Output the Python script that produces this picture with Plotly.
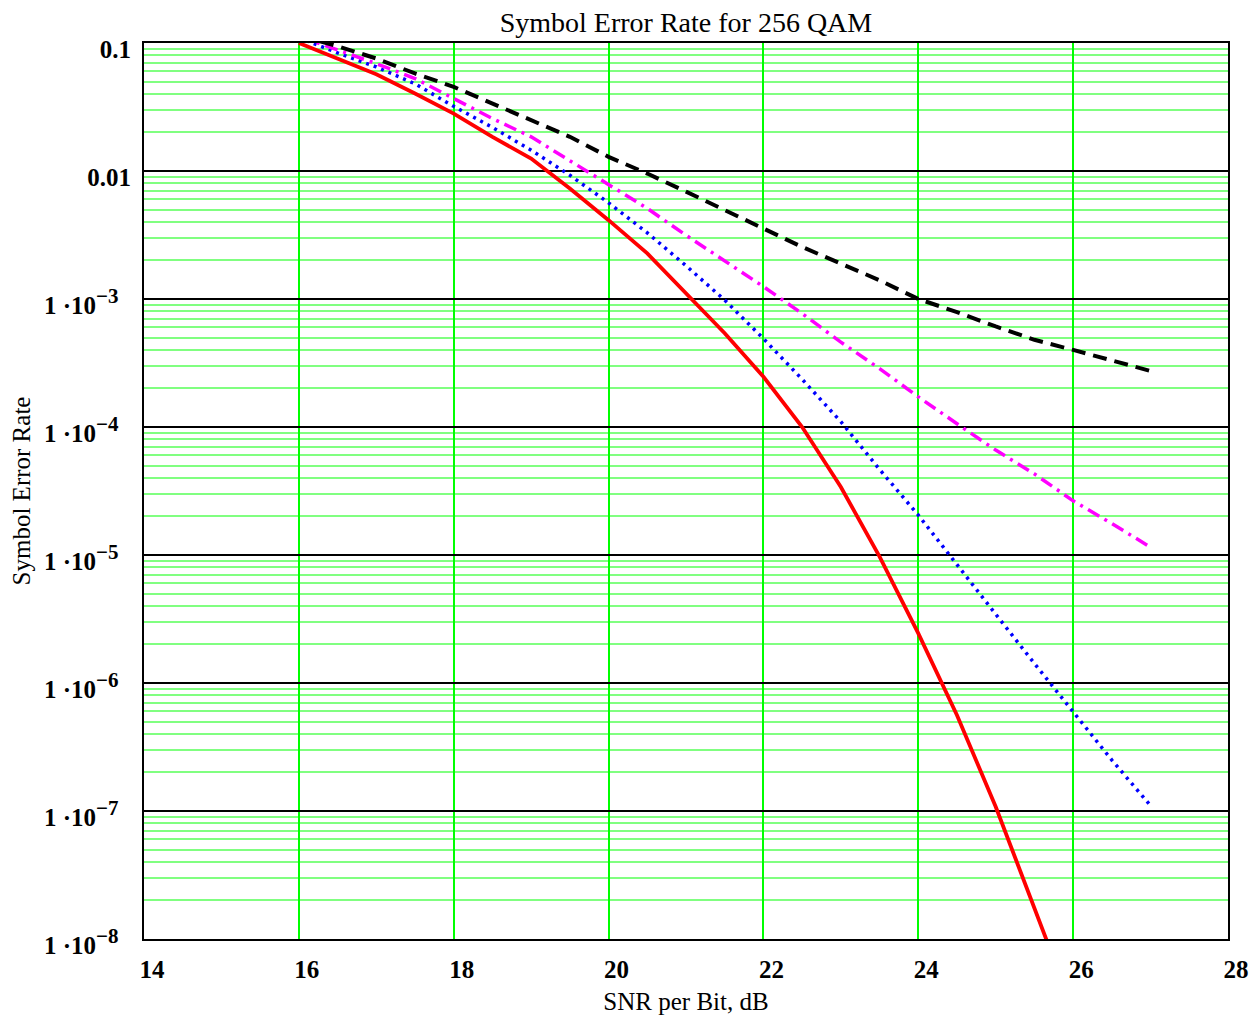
import plotly.graph_objects as go

# ---- data ----
snr_db = [16, 16.5, 17, 17.5, 18, 18.5, 19, 19.5, 20, 20.5, 21, 21.5, 22,
          22.5, 23, 23.5, 24, 24.5, 25, 25.5, 26, 26.5, 27]

ser_red = [0.1, 0.0757, 0.057, 0.0403, 0.0281, 0.0185, 0.0125, 7.3e-3, 4.13e-3,
           2.27e-3, 1.10e-3, 5.4e-4, 2.47e-4, 1.0e-4, 3.4e-5, 9.7e-6, 2.44e-6,
           5.6e-7, 1.08e-7, 1.74e-8, 2.8e-9, None, None]

ser_blue = [0.11, 0.0837, 0.065, 0.048, 0.032, 0.0219, 0.01455, 9.27e-3, 5.64e-3,
            3.29e-3, 1.82e-3, 9.8e-4, 4.9e-4, 2.36e-4, 1.1e-4, 4.66e-5, 2.05e-5,
            8.5e-6, 3.45e-6, 1.42e-6, 5.9e-7, 2.5e-7, 1.1e-7]

ser_magenta = [0.113, 0.088, 0.069, 0.0528, 0.0368, 0.0257, 0.0185, 0.0121, 7.8e-3,
               5.1e-3, 3.15e-3, 2.0e-3, 1.25e-3, 7.7e-4, 4.6e-4, 2.86e-4, 1.72e-4,
               1.06e-4, 6.6e-5, 4.3e-5, 2.65e-5, 1.76e-5, 1.15e-5]

ser_black = [0.115, 0.0944, 0.0757, 0.0578, 0.0454, 0.0337, 0.025, 0.0185, 0.0129,
             9.55e-3, 6.9e-3, 4.94e-3, 3.5e-3, 2.55e-3, 1.89e-3, 1.4e-3, 1.0e-3,
             7.9e-4, 6.1e-4, 4.8e-4, 4.0e-4, 3.3e-4, 2.74e-4]

x_ticks = [14, 16, 18, 20, 22, 24, 26, 28]
y_ticks = [1e-1, 1e-2, 1e-3, 1e-4, 1e-5, 1e-6, 1e-7, 1e-8]
y_exponents = ["\u22123", "\u22124", "\u22125", "\u22126", "\u22127", "\u22128"]
y_ticktext = ["0.1", "0.01"] + [
    "1 \u00b710<sup><span style='font-size:21px'>" + e + "</span></sup>\u00a0\u00a0"
    for e in y_exponents
]

minor_vals = [m * 10.0 ** e for e in range(-8, -1) for m in range(2, 10)]

SERIF = "Liberation Serif, Times New Roman, serif"

fig = go.Figure()
fig.add_trace(go.Scatter(x=snr_db, y=ser_red, mode="lines",
                         line=dict(color="#ff0000", width=3.8)))
fig.add_trace(go.Scatter(x=snr_db, y=ser_blue, mode="lines",
                         line=dict(color="#0000ff", width=3.5, dash="3px,5px")))
fig.add_trace(go.Scatter(x=snr_db, y=ser_magenta, mode="lines",
                         line=dict(color="#ff00ff", width=3.5, dash="13px,6px,3px,6px")))
fig.add_trace(go.Scatter(x=snr_db, y=ser_black, mode="lines",
                         line=dict(color="#000000", width=4, dash="14px,8px")))

fig.update_layout(
    width=1255, height=1020,
    margin=dict(l=144, r=27, t=43, b=81),
    plot_bgcolor="white", paper_bgcolor="white",
    showlegend=False,
    font=dict(family=SERIF, color="black"),
    title=dict(text="Symbol Error Rate for 256 QAM", x=0.5, xref="paper", xanchor="center",
               y=1 - 22 / 1020, yref="container", yanchor="middle",
               font=dict(family=SERIF, size=28, color="black")),
)

fig.update_xaxes(
    range=[14, 28], tickmode="array", tickvals=x_ticks, automargin=False,
    showgrid=True, gridcolor="#00ff00", gridwidth=1.5, zeroline=False,
    showline=True, linecolor="black", linewidth=2, mirror=True,
    ticks="", tickfont=dict(family=SERIF, size=25, weight="bold", color="black"),
    ticklabelstandoff=7, ticklabelshift=8,
    title=dict(text="SNR per Bit, dB", font=dict(family=SERIF, size=25, color="black"), standoff=10),
)

fig.update_yaxes(
    type="log", range=[-8, -1], tickmode="array", tickvals=y_ticks, ticktext=y_ticktext,
    automargin=False,
    showgrid=True, gridcolor="black", gridwidth=2, zeroline=False,
    showline=True, linecolor="black", linewidth=2, mirror=True,
    minor=dict(tickmode="array", tickvals=minor_vals, showgrid=True,
               gridcolor="#80ff80", gridwidth=1.5, ticks=""),
    ticks="", tickfont=dict(family=SERIF, size=25, weight="bold", color="black"),
    ticklabelstandoff=6, ticklabelshift=6,
    title=dict(text="Symbol Error Rate", font=dict(family=SERIF, size=25, color="black"), standoff=6),
)

fig.write_html("out.html")
